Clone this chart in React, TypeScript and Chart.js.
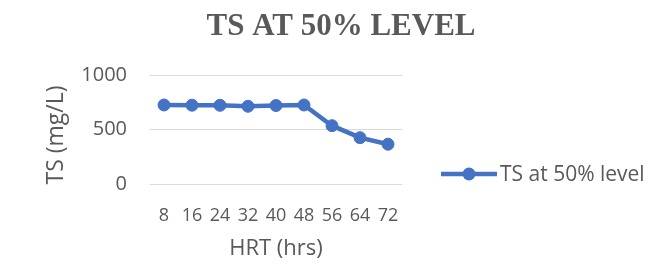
import React, { useEffect, useRef } from "react";
import { Chart, registerables } from "chart.js";

Chart.register(...registerables);

const categories = ["8", "16", "24", "32", "40", "48", "56", "64", "72"];
const tsValues = [725, 723, 722, 713, 720, 725, 535, 425, 365];
const yTicks = [0, 500, 1000];
const chartTitle = "TS AT 50% LEVEL";
const seriesName = "TS at 50% level";
const xTitle = "HRT (hrs)";
const yTitle = "TS (mg/L)";

const BLUE = "#4472C4";
const TEXT = "#595959";
const GRID = "#D9D9D9";
const SANS = "'Open Sans', 'Noto Sans', sans-serif";

const decorPlugin = {
  id: "decor",
  afterDraw(chart: any) {
    const ctx = chart.ctx;
    ctx.save();
    // title
    ctx.fillStyle = TEXT;
    ctx.font = "bold 31px 'Liberation Serif', serif";
    ctx.textAlign = "center";
    ctx.textBaseline = "alphabetic";
    ctx.fillText(chartTitle, 341, 35);
    // y axis title
    ctx.save();
    ctx.translate(56, 135);
    ctx.rotate(-Math.PI / 2);
    ctx.font = "23px " + SANS;
    ctx.textAlign = "center";
    ctx.textBaseline = "middle";
    ctx.fillText(yTitle, 0, 0);
    ctx.restore();
    // legend
    const ly = 174;
    ctx.strokeStyle = BLUE;
    ctx.lineWidth = 4.5;
    ctx.lineCap = "butt";
    ctx.beginPath();
    ctx.moveTo(441, ly);
    ctx.lineTo(497, ly);
    ctx.stroke();
    ctx.fillStyle = BLUE;
    ctx.beginPath();
    ctx.arc(469, ly, 6.5, 0, Math.PI * 2);
    ctx.fill();
    ctx.fillStyle = TEXT;
    ctx.font = "21px " + SANS;
    ctx.textAlign = "left";
    ctx.textBaseline = "alphabetic";
    ctx.fillText(seriesName, 500, 181);
    ctx.restore();
  },
};

export default function App() {
  const ref = useRef<HTMLCanvasElement>(null);
  useEffect(() => {
    document.body.style.margin = "0";
    const chart = new Chart(ref.current as HTMLCanvasElement, {
      type: "line",
      data: {
        labels: categories,
        datasets: [
          {
            label: seriesName,
            data: tsValues,
            borderColor: BLUE,
            backgroundColor: BLUE,
            borderWidth: 4.5,
            pointRadius: 6,
            pointBorderWidth: 1,
            pointBorderColor: BLUE,
            pointBackgroundColor: BLUE,
            tension: 0,
          },
        ],
      },
      options: {
        responsive: false,
        animation: false,
        layout: { padding: { left: 0, right: 270, top: 75, bottom: 0 } },
        plugins: {
          legend: { display: false },
          title: { display: false },
          tooltip: { enabled: false },
        },
        scales: {
          x: {
            type: "category",
            offset: true,
            grid: { display: false, drawTicks: false },
            border: { display: false },
            ticks: {
              color: TEXT,
              font: { family: SANS, size: 18 },
              padding: 21,
              maxRotation: 0,
              autoSkip: false,
            },
            title: {
              display: true,
              text: xTitle,
              color: TEXT,
              font: { family: SANS, size: 22 },
              padding: { top: 0, bottom: 6 },
            },
            afterFit: (s: any) => {
              s.height = 84;
            },
          },
          y: {
            min: 0,
            max: 1000,
            afterBuildTicks: (s: any) => {
              s.ticks = yTicks.map((v) => ({ value: v }));
            },
            grid: { color: GRID, lineWidth: 1, drawTicks: false },
            border: { display: false },
            ticks: {
              color: TEXT,
              font: { family: SANS, size: 20 },
              padding: 23,
              callback: (v: any) => String(v),
            },
            title: { display: false },
            afterFit: (s: any) => {
              s.width = 150;
            },
          },
        },
      },
      plugins: [decorPlugin],
    } as any);
    return () => chart.destroy();
  }, []);
  return (
    <div style={{ position: "absolute", left: 0, top: 0, width: 672, height: 268, background: "#fff" }}>
      <canvas ref={ref} width={672} height={268} />
    </div>
  );
}
